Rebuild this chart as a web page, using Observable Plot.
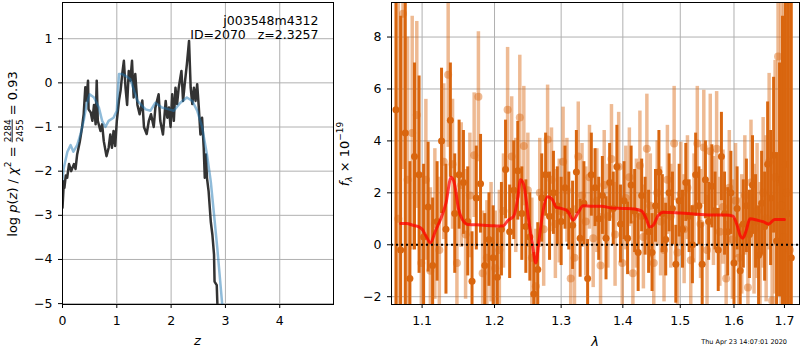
<!DOCTYPE html>
<html><head><meta charset="utf-8">
<script src="https://cdn.jsdelivr.net/npm/d3@7"></script>
<script src="https://cdn.jsdelivr.net/npm/@observablehq/plot@0.6"></script>
<style>
body{margin:0;background:#fff;}
#wrap{display:flex;width:800px;height:350px;}
#wrap svg{flex:none;}
</style></head><body><div id="wrap"></div>
<script>
// ---------- Left panel: redshift probability ----------
const pzZ = [0,0.025,0.035,0.06,0.086,0.12,0.16,0.21,0.24,0.27,0.32,0.36,0.39,0.42,0.44,0.47,0.48,0.52,0.55,0.58,0.61,0.63,0.65,0.70,0.73,0.76,0.81,0.85,0.88,0.91,0.94,0.97,1.0,1.04,1.07,1.10,1.13,1.16,1.19,1.22,1.25,1.28,1.31,1.34,1.38,1.42,1.47,1.50,1.55,1.59,1.63,1.68,1.71,1.77,1.80,1.85,1.90,1.93,1.96,1.99,2.02,2.05,2.08,2.11,2.14,2.19,2.22,2.25,2.29,2.33,2.36,2.39,2.42,2.45,2.48,2.51,2.54,2.57,2.60,2.62,2.64,2.66,2.69,2.73,2.76,2.79,2.80,2.84,2.86];
const pzLog = [-2.83,-2.23,-2.38,-2.1,-2.15,-1.84,-2.0,-1.84,-1.95,-1.62,-1.32,-1.01,-0.71,-0.1,-0.4,0.05,-0.6,-0.67,-0.86,-0.5,-0.94,0.05,-0.86,-1.09,-0.94,-1.32,-1.66,-1.47,-1.17,-1.47,-1.09,-1.43,-0.86,-0.4,-0.17,0.2,0.5,-0.1,-0.5,0.27,0.05,0.5,-0.33,0.2,-0.5,-0.71,-0.4,-1.0,-1.16,-0.86,-0.71,-1.0,-0.56,-0.26,-0.86,-1.17,-0.41,-0.79,-0.56,-1.0,-0.26,-0.86,-0.11,-0.48,-0.11,0.27,-0.41,-0.03,0.42,0.95,-0.11,-0.48,-0.11,-0.41,-0.03,-0.56,-1.17,-0.79,-1.47,-2.15,-1.62,-2.15,-2.45,-3.14,-3.44,-3.89,-4.5,-4.58,-5.3];
const chiZ = [0,0.02,0.09,0.15,0.2,0.27,0.33,0.39,0.44,0.5,0.58,0.67,0.73,0.79,0.85,0.94,1.0,1.04,1.10,1.16,1.25,1.38,1.53,1.62,1.71,1.83,1.96,2.05,2.17,2.29,2.39,2.48,2.57,2.66,2.73,2.79,2.85,2.91,2.96];
const chiVal = [-2.2,-1.95,-1.56,-1.41,-1.56,-1.41,-1.17,-0.86,-0.5,-0.26,-0.33,-0.56,-0.86,-1.0,-0.86,-0.79,-0.63,0.2,0.2,0.16,0.08,-0.41,-0.6,-0.63,-0.45,-0.56,-0.6,-0.63,-0.45,-0.33,-0.41,-0.63,-1.0,-1.62,-2.23,-2.98,-3.74,-4.58,-5.3];
const zTicks = [0,1,2,3,4];
const logTicks = [-5,-4,-3,-2,-1,0,1];
const objName = "j003548m4312";
const objInfo = "ID=2070\u00a0\u00a0\u00a0z=2.3257";
const chiNum = "2284", chiDen = "2455", chiRatio = "0.93";

// ---------- Right panel: spectrum ----------
const darkWave = [1.066,1.072,1.078,1.084,1.090,1.096,1.102,1.108,1.114,1.120,1.126,1.132,1.138,1.144,1.150,1.156,1.162,1.168,1.174,1.180,1.186,1.192,1.198,1.204,1.210,1.216,1.222,1.228,1.234,1.240,1.246,1.252,1.258,1.264,1.270,1.276,1.282,1.288,1.294,1.300,1.306,1.312,1.318,1.324,1.330,1.336,1.342,1.348,1.354,1.360,1.366,1.372,1.378,1.384,1.390,1.396,1.402,1.408,1.414,1.420,1.426,1.432,1.438,1.444,1.450,1.456,1.462,1.468,1.474,1.480,1.486,1.492,1.498,1.504,1.510,1.516,1.522,1.528,1.534,1.540,1.546,1.552,1.558,1.564,1.570,1.576,1.582,1.588,1.594,1.600,1.606,1.612,1.618,1.624,1.630,1.636,1.642,1.648,1.654,1.660,1.666,1.672,1.678,1.684,1.690,1.696,1.702,1.708,1.714];
const darkFlux = [5.2,-0.2,4.3,-1.3,3.4,2.7,0.3,1.45,-0.8,0.9,4.0,0.6,4.8,1.2,2.7,2.4,0.9,-1.4,1.8,2.35,-0.8,0.2,-0.5,-1.25,0.6,2.9,0.5,2.1,2.85,1.2,0.7,0.3,-1.9,-0.95,1.8,2.7,1.1,2.0,1.5,0.9,2.2,1.3,0.75,2.8,0.25,1.6,-1.3,2.7,2.2,1.0,1.9,0.25,2.4,1.4,3.0,0.8,1.7,0.25,2.3,1.3,-0.3,1.9,1.1,0.5,-0.3,1.5,2.8,1.2,0.2,2.0,1.4,-0.75,1.7,0.6,2.4,1.1,0.0,2.7,1.5,-0.75,2.5,0.9,2.25,1.3,-0.2,3.4,1.2,0.5,2.0,-0.7,1.4,-1.0,0.8,1.5,0.4,2.3,0.9,-0.4,1.6,0.7,3.1,1.8,3.45,0.15,2.5,0.8,3.1,1.2,-0.5];
const darkErr = [9,9,7,4.5,3.6,3.8,2.8,2.5,2.6,2.3,2.8,2.5,2.2,2.3,2.1,2.0,2.1,1.9,2.0,1.9,2.0,1.8,2.0,1.9,1.8,1.9,1.8,1.9,1.9,1.8,1.8,1.7,1.6,1.8,1.7,1.6,1.7,1.6,1.5,1.7,1.6,1.5,1.7,1.6,1.5,1.6,1.5,1.6,1.5,1.6,1.5,1.6,1.5,1.4,1.6,1.5,1.5,1.4,1.5,1.6,1.5,1.4,1.5,1.6,1.5,1.4,1.6,1.5,1.4,1.5,1.4,1.5,1.4,1.5,1.5,1.4,1.5,1.6,1.5,1.6,1.5,1.5,1.6,1.5,1.6,1.7,1.6,1.7,1.6,1.7,1.6,1.8,1.7,1.8,1.7,1.9,1.8,1.9,2.0,2.1,2.4,2.6,3.0,3.4,4.5,8,10,12,12];
const lightWave = [1.069,1.075,1.081,1.087,1.093,1.099,1.105,1.111,1.117,1.123,1.129,1.135,1.141,1.147,1.153,1.159,1.165,1.171,1.177,1.183,1.189,1.195,1.201,1.207,1.213,1.219,1.225,1.231,1.237,1.243,1.249,1.255,1.261,1.267,1.273,1.279,1.285,1.291,1.297,1.303,1.309,1.315,1.321,1.327,1.333,1.339,1.345,1.351,1.357,1.363,1.369,1.375,1.381,1.387,1.393,1.399,1.405,1.411,1.417,1.423,1.429,1.435,1.441,1.447,1.453,1.459,1.465,1.471,1.477,1.483,1.489,1.495,1.501,1.507,1.513,1.519,1.525,1.531,1.537,1.543,1.549,1.555,1.561,1.567,1.573,1.579,1.585,1.591,1.597,1.603,1.609,1.615,1.621,1.627,1.633,1.639,1.645,1.651,1.657,1.663,1.669,1.675,1.681,1.687,1.693,1.699,1.705,1.711];
const lightFlux = [1.0,8.9,2.5,4.3,5.0,-0.7,2.5,-1.0,0.8,-0.2,3.2,6.55,3.1,-0.7,2.3,0.4,1.9,3.45,5.7,-1.1,-0.5,0.1,-0.9,-0.2,1.3,5.2,3.4,1.9,4.9,3.8,2.1,-0.5,-1.6,2.0,0.6,4.05,2.5,0.8,1.3,3.2,2.1,-1.3,-0.5,3.4,1.9,0.9,2.6,0.25,1.7,-0.8,2.3,1.1,3.3,0.4,3.0,-0.7,1.8,2.6,-1.1,1.2,3.05,0.3,3.7,1.5,-0.7,2.0,0.9,-0.2,2.5,1.1,3.9,-0.3,1.95,0.6,2.2,-0.6,1.4,3.9,0.8,3.75,-0.2,3.6,1.3,3.7,0.5,1.45,-1.3,2.2,0.2,1.7,-0.5,0.4,1.9,-1.65,2.4,0.6,1.3,-0.3,2.0,1.0,3.2,-2.15,2.6,7.25,1.5,0.3,2.0,-0.2];
const lightErr = [9,6,5.5,4.5,3.6,3.3,3.1,3.2,2.9,2.8,3.0,2.8,2.5,2.7,2.4,2.5,2.4,2.4,2.5,2.4,2.2,2.3,2.2,2.3,2.2,2.4,2.3,2.2,2.4,2.3,2.2,2.3,2.2,2.1,2.2,2.1,2.0,2.1,2.0,2.1,2.0,2.1,2.0,2.1,2.0,2.1,2.0,1.9,2.0,2.0,2.1,2.0,2.1,2.0,2.1,2.0,2.0,1.9,2.0,2.1,2.1,2.0,2.1,2.0,2.1,2.0,2.1,2.0,2.1,2.0,2.2,2.1,2.0,2.1,2.0,2.1,2.1,2.2,2.1,2.2,2.1,2.2,2.1,2.2,2.1,2.2,2.2,2.2,2.3,2.2,2.3,2.3,2.3,2.4,2.4,2.5,2.6,2.7,2.9,3.2,3.4,4.0,4.5,5,9,10,12,12];
const modelWave = [1.072,1.08,1.088,1.095,1.10,1.105,1.111,1.118,1.125,1.132,1.139,1.144,1.149,1.155,1.162,1.18,1.20,1.212,1.22,1.228,1.234,1.238,1.243,1.25,1.256,1.261,1.266,1.272,1.279,1.286,1.292,1.30,1.31,1.319,1.327,1.335,1.35,1.365,1.38,1.40,1.42,1.432,1.44,1.446,1.452,1.46,1.47,1.50,1.53,1.56,1.585,1.598,1.606,1.612,1.617,1.623,1.631,1.645,1.658,1.668,1.68,1.70];
const modelFlux = [0.82,0.82,0.75,0.7,0.6,0.35,0.08,0.55,1.0,1.6,2.6,2.3,1.4,0.95,0.78,0.76,0.73,0.72,0.95,1.1,1.8,2.5,2.3,1.0,0.0,-0.7,0.2,1.3,1.85,1.75,1.45,1.4,1.3,0.95,1.25,1.5,1.48,1.48,1.42,1.4,1.38,1.3,1.0,0.68,0.75,1.1,1.25,1.22,1.18,1.15,1.15,1.1,0.75,0.35,0.25,0.5,1.0,0.95,0.88,0.8,0.97,0.97];
const waveTicks = [1.1,1.2,1.3,1.4,1.5,1.6,1.7];
const fluxTicks = [-2,0,2,4,6,8];
const dateText = "Thu Apr 23 14:07:01 2020";

// ---------- build tables ----------
const pz = pzZ.map((z,i)=>({z, v: pzLog[i]}));
const chi = chiZ.map((z,i)=>({z, v: chiVal[i]}));
const dark = darkWave.map((w,i)=>({w, f: darkFlux[i], e: darkErr[i]}));
const light = lightWave.map((w,i)=>({w, f: lightFlux[i], e: lightErr[i]}));
const model = modelWave.map((w,i)=>({w, f: modelFlux[i]}));

const minus = d => d < 0 ? "\u2212" + Math.abs(d) : String(d);
const style = {fontFamily: "DejaVu Sans", fontSize: "12.5px", color: "black", background: "white", overflow: "visible"};
const gridStyle = {stroke: "#b0b0b0", strokeOpacity: 1, strokeWidth: 1};
const ORANGE = "#d9660f";

const left = Plot.plot({
  width: 340, height: 350, marginLeft: 62, marginRight: 7, marginTop: 2, marginBottom: 46,
  style,
  x: {domain: [0, 4.99]},
  y: {domain: [-5.02, 1.82]},
  marks: [
    Plot.gridX(zTicks, gridStyle),
    Plot.gridY(logTicks, gridStyle),
    Plot.line(pz, {x: "z", y: "v", stroke: "#333333", strokeWidth: 2.5, clip: true}),
    Plot.line(chi, {x: "z", y: "v", stroke: "#1f77b4", strokeOpacity: 0.5, strokeWidth: 2.5, clip: true}),
    Plot.axisX({ticks: zTicks, tickSize: 4, tickPadding: 7.5, tickFormat: minus, label: null}),
    Plot.axisY({ticks: logTicks, tickSize: 4, tickPadding: 6, tickFormat: minus, label: null}),
    Plot.frame({stroke: "black"}),
    Plot.text([objName + "\n" + objInfo], {text: d => d, frameAnchor: "top-right", textAnchor: "end", lineAnchor: "top", dx: -15, dy: 13, lineHeight: 1.12, fontSize: 12.5, fill: "black"})
  ]
});

const right = Plot.plot({
  width: 460, height: 350, marginLeft: 51, marginRight: 1, marginTop: 2, marginBottom: 46,
  style,
  x: {type: "log", domain: [1.0603, 1.731]},
  y: {domain: [-2.3, 9.33]},
  marks: [
    Plot.gridX(waveTicks, gridStyle),
    Plot.gridY(fluxTicks, gridStyle),
    Plot.ruleX(dark, {x: "w", y1: d => d.f - d.e, y2: d => d.f + d.e, stroke: ORANGE, strokeWidth: 3, clip: true}),
    Plot.dot(dark, {x: "w", y: "f", r: 3.5, fill: ORANGE, clip: true}),
    Plot.ruleX(light, {x: "w", y1: d => d.f - d.e, y2: d => d.f + d.e, stroke: ORANGE, strokeOpacity: 0.45, strokeWidth: 3.5, clip: true}),
    Plot.dot(light, {x: "w", y: "f", r: 4, fill: ORANGE, fillOpacity: 0.45, clip: true}),
    Plot.line(model, {x: "w", y: "f", stroke: "red", strokeOpacity: 0.75, strokeWidth: 3, curve: "monotone-x", clip: true}),
    Plot.ruleY([0], {stroke: "black", strokeWidth: 2, strokeDasharray: "2,3"}),
    Plot.axisX({ticks: waveTicks, tickSize: 4, tickPadding: 7.5, tickFormat: d3.format(".1f"), label: null}),
    Plot.axisY({ticks: fluxTicks, tickSize: 4, tickPadding: 6, tickFormat: minus, label: null}),
    Plot.frame({stroke: "black"})
  ]
});

document.getElementById("wrap").append(left, right);

// ---------- rotated labels (single text, flowing tspans, centred) ----------
function rotated(svgNode, cx, cy, parts) {
  const t = d3.select(svgNode).append("text")
    .attr("transform", `translate(${cx},${cy}) rotate(-90)`)
    .attr("text-anchor", "middle").attr("font-family", "DejaVu Sans").attr("font-size", 13)
    .attr("fill", "black").style("white-space", "pre");
  for (const p of parts) {
    const s = t.append("tspan").text(p.t).attr("font-size", p.s || 13).attr("font-style", p.i ? "italic" : "normal");
    if (p.dx) s.attr("dx", p.dx);
    if (p.dy) s.attr("dy", p.dy);
    if (p.u) s.style("text-decoration", "underline");
  }
}
const fracW = 4 * 0.636 * 9;
rotated(left, 16.5, 154, [
  {t: "log "}, {t: "p", i: true}, {t: "("}, {t: "z", i: true}, {t: ") / "}, {t: "\u03c7", i: true},
  {t: "2", s: 9, dy: -5.5}, {t: " = ", dy: 5.5},
  {t: chiNum, s: 9, dy: -5.8, u: true}, {t: chiDen, s: 9, dx: -fracW, dy: 11.8},
  {t: " = " + chiRatio, dy: -6}
]);
rotated(right, 8.5, 154, [
  {t: "f", i: true}, {t: "\u03bb", i: true, s: 9, dy: 3}, {t: " \u00d7 10", dy: -3}, {t: "\u221219", s: 9, dy: -5.5}
]);

d3.select(left).append("text").attr("x", 197.5).attr("y", 345).attr("text-anchor", "middle")
  .attr("font-family", "DejaVu Sans").attr("font-size", 13).attr("font-style", "italic").text("z");
d3.select(right).append("text").attr("x", 255).attr("y", 346).attr("text-anchor", "middle")
  .attr("font-family", "DejaVu Sans").attr("font-size", 13).attr("font-style", "italic").text("\u03bb");
d3.select(right).append("text").attr("x", 447).attr("y", 343.5).attr("text-anchor", "end")
  .attr("font-family", "DejaVu Sans").attr("font-size", 6.5).attr("fill", "black").text(dateText);
</script></body></html>
